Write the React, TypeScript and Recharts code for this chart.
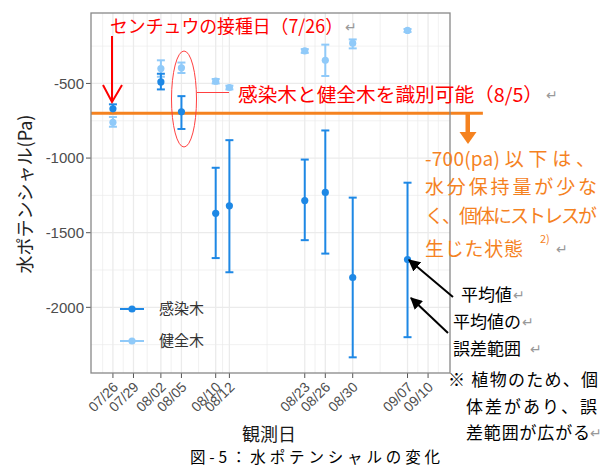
import {
  ComposedChart, Scatter, ErrorBar, XAxis, YAxis, CartesianGrid, ReferenceLine, Legend
} from 'recharts'

// 観測日（07/26 からの日数）と目盛ラベル
const tickLabels = ['07/26', '07/29', '08/02', '08/05', '08/10', '08/12', '08/23', '08/26', '08/30', '09/07', '09/10']
const tickDays = [0, 3, 7, 10, 15, 17, 28, 31, 35, 43, 46]

// 測定日
const obsDays = [0, 7, 10, 15, 17, 28, 31, 35, 43]

// 感染木
const infectedMean = [-670, -490, -690, -1370, -1320, -1285, -1230, -1800, -1680]
const infectedLow = [-700, -540, -805, -1670, -1765, -1550, -1640, -2335, -2200]
const infectedHigh = [-640, -435, -585, -1065, -880, -1010, -815, -1265, -1165]

// 健全木
const healthyMean = [-760, -400, -395, -485, -527, -282, -345, -230, -145]
const healthyLow = [-790, -455, -430, -500, -540, -295, -450, -265, -155]
const healthyHigh = [-725, -345, -360, -470, -515, -270, -240, -205, -135]

const yTicks = [-2000, -1500, -1000, -500]
const yMinor = [-2250, -1750, -1250, -750, -250]
const threshold = -700

const DARK = '#1E88E5'
const LIGHT = '#90CAF9'
const ORANGE = '#F5821F'
const JP = '"Noto Sans CJK JP", "Noto Sans", sans-serif'

const toRows = (mean: number[], low: number[], high: number[]) =>
  obsDays.map((day, i) => ({ day, mean: mean[i], err: [mean[i] - low[i], high[i] - mean[i]] }))

const infectedData = toRows(infectedMean, infectedLow, infectedHigh)
const healthyData = toRows(healthyMean, healthyLow, healthyHigh)

const minorDays = [
  tickDays[0] - (tickDays[1] - tickDays[0]) / 2,
  ...tickDays.slice(1).map((d, i) => (d + tickDays[i]) / 2),
  tickDays[tickDays.length - 1] + (tickDays[tickDays.length - 1] - tickDays[tickDays.length - 2]) / 2
]

const XTick = (props: any) => {
  const { x, y, payload } = props
  const label = tickLabels[tickDays.indexOf(payload.value)]
  return (
    <text
      x={x + 6} y={y + 8}
      transform={`rotate(-45 ${x + 6} ${y + 8})`}
      textAnchor="end"
      fontSize={14}
      fill="#4D4D4D"
      fontFamily="Liberation Sans, Arial, sans-serif"
    >
      {label}
    </text>
  )
}

const dot = (color: string) => (p: any) => <circle cx={p.cx} cy={p.cy} r={3.6} fill={color} />

const LegendBox = () => (
  <svg width={120} height={60}>
    {[{ c: DARK, t: '感染木', y: 12 }, { c: LIGHT, t: '健全木', y: 44 }].map(k => (
      <g key={k.t}>
        <line x1={7} x2={31} y1={k.y} y2={k.y} stroke={k.c} strokeWidth={2} />
        <circle cx={19} cy={k.y} r={3.6} fill={k.c} />
        <text x={46} y={k.y + 5} fontSize={15} fill="#333" fontFamily={JP}>{k.t}</text>
      </g>
    ))}
  </svg>
)

const ret = '↵'

export default function App() {
  return (
    <div style={{ position: 'absolute', left: 0, top: 0, width: 616, height: 466, background: '#fff' }}>
      <ComposedChart
        width={616}
        height={466}
        margin={{ top: 13, right: 166, bottom: 0, left: 0 }}
      >
        <CartesianGrid
          stroke="#EBEBEB" strokeWidth={0.7}
          horizontalValues={yMinor} verticalValues={minorDays}
        />
        <CartesianGrid
          stroke="#EBEBEB" strokeWidth={1.3}
          horizontalValues={yTicks} verticalValues={tickDays}
        />
        <XAxis
          dataKey="day" type="number" domain={[-3.2, 49.2]} ticks={tickDays}
          height={93} interval={0} tick={<XTick />}
          axisLine={false} tickLine={{ stroke: '#555' }} tickSize={5}
          allowDataOverflow
        />
        <YAxis
          type="number" domain={[-2440, -28]} ticks={yTicks} width={91}
          tick={{ fontSize: 15, fill: '#4D4D4D', fontFamily: 'Liberation Sans, Arial, sans-serif' }}
          axisLine={false} tickLine={{ stroke: '#555' }} tickSize={5}
          allowDataOverflow
        />
        <Scatter data={healthyData} dataKey="mean" fill={LIGHT} shape={dot(LIGHT)} isAnimationActive={false}>
          <ErrorBar dataKey="err" direction="y" width={4} stroke={LIGHT} strokeWidth={2} />
        </Scatter>
        <Scatter data={infectedData} dataKey="mean" fill={DARK} shape={dot(DARK)} isAnimationActive={false}>
          <ErrorBar dataKey="err" direction="y" width={4} stroke={DARK} strokeWidth={2} />
        </Scatter>
        <ReferenceLine
          segment={[{ x: -3.2, y: threshold }, { x: 54, y: threshold }]}
          stroke={ORANGE} strokeWidth={3} ifOverflow="visible"
        />
        <Legend
          layout="horizontal" align="center" verticalAlign="middle"
          wrapperStyle={{ left: 113, top: 297, width: 120, height: 60 }}
          content={() => <LegendBox />}
        />
      </ComposedChart>

      <svg width={616} height={466} style={{ position: 'absolute', left: 0, top: 0, pointerEvents: 'none' }}>
        <defs>
          <marker id="blk" viewBox="0 0 10 10" refX="9" refY="5" markerWidth="6" markerHeight="6" orient="auto">
            <path d="M0,0 L10,5 L0,10 Z" fill="#000" />
          </marker>
        </defs>
        {/* panel border */}
        <rect x={91} y={13} width={359} height={360} fill="none" stroke="#888" strokeWidth={1.3} />

        {/* y title / x title / caption */}
        <text x={24} y={194} transform="rotate(-90 24 194)" textAnchor="middle" dominantBaseline="central"
          fontSize={18} fill="#222" fontFamily={JP}>水ポテンシャル(Pa)</text>
        <text x={269} y={433} textAnchor="middle" dominantBaseline="central" fontSize={18} fill="#1a1a1a" fontFamily={JP}>観測日</text>
        <text x={190} y={456} dominantBaseline="central" fontSize={15.5} fill="#000" fontFamily={JP}
          textLength={250} lengthAdjust="spacing">図-5：水ポテンシャルの変化</text>

        {/* red annotations */}
        <text x={110} y={25} dominantBaseline="central" fontSize={18} fill="#FF0000" fontFamily={JP}
          textLength={233} lengthAdjust="spacingAndGlyphs">センチュウの接種日（7/26）</text>
        <text x={345} y={26} dominantBaseline="central" fontSize={14} fill="#999" fontFamily={JP}>{ret}</text>
        <line x1={112} y1={36} x2={112} y2={101} stroke="#FF0000" strokeWidth={2} />
        <polyline points="103,85 112,102 122,85" fill="none" stroke="#FF0000" strokeWidth={2} />
        <ellipse cx={184} cy={99} rx={12.5} ry={48} fill="none" stroke="#FF4040" strokeWidth={1} />
        <line x1={197} y1={92.5} x2={229} y2={92.5} stroke="#FF4040" strokeWidth={1} />
        <text x={238} y={93} dominantBaseline="central" fontSize={19} fill="#FF0000" fontFamily={JP}
          textLength={305} lengthAdjust="spacingAndGlyphs">感染木と健全木を識別可能（8/5）</text>
        <text x={546} y={94} dominantBaseline="central" fontSize={14} fill="#999" fontFamily={JP}>{ret}</text>

        {/* orange arrow and note */}
        <rect x={465.5} y={113} width={4.5} height={20} fill={ORANGE} />
        <path d="M459.5,132 L476.5,132 L468,144 Z" fill={ORANGE} />
        <g fontSize={19} fill={ORANGE} fontFamily={JP}>
          <text x={425} y={157} dominantBaseline="central" textLength={170} lengthAdjust="spacing">-700(pa) 以 下 は 、</text>
          <text x={425} y={185} dominantBaseline="central" textLength={172} lengthAdjust="spacing">水分保持量が少な</text>
          <text x={425} y={214} dominantBaseline="central" textLength={172} lengthAdjust="spacing">く、個体にストレスが</text>
          <text x={425} y={247} dominantBaseline="central" textLength={98} lengthAdjust="spacing">生じた状態</text>
        </g>
        <text x={540} y={238} dominantBaseline="central" fontSize={11} fill={ORANGE} fontFamily={JP}>2)</text>
        <text x={556} y={248} dominantBaseline="central" fontSize={14} fill="#999" fontFamily={JP}>{ret}</text>

        {/* black arrows and notes */}
        <line x1={453} y1={297} x2={409} y2={260} stroke="#000" strokeWidth={2} markerEnd="url(#blk)" />
        <line x1={448} y1={333} x2={411} y2={298} stroke="#000" strokeWidth={2} markerEnd="url(#blk)" />
        <g fontSize={17} fill="#000" fontFamily={JP}>
          <text x={461} y={293} dominantBaseline="central">平均値</text>
          <text x={453} y={320} dominantBaseline="central">平均値の</text>
          <text x={453} y={347} dominantBaseline="central">誤差範囲</text>
          <text x={448} y={378} dominantBaseline="central" textLength={150} lengthAdjust="spacing">※  植物のため、個</text>
          <text x={466} y={405} dominantBaseline="central" textLength={131} lengthAdjust="spacing">体 差 が あ り 、 誤</text>
          <text x={466} y={431} dominantBaseline="central" textLength={124} lengthAdjust="spacing">差範囲が広がる</text>
        </g>
        <g fontSize={14} fill="#999" fontFamily={JP}>
          <text x={513} y={294} dominantBaseline="central">{ret}</text>
          <text x={522} y={321} dominantBaseline="central">{ret}</text>
          <text x={530} y={348} dominantBaseline="central">{ret}</text>
          <text x={590} y={432} dominantBaseline="central">{ret}</text>
        </g>
      </svg>
    </div>
  )
}
